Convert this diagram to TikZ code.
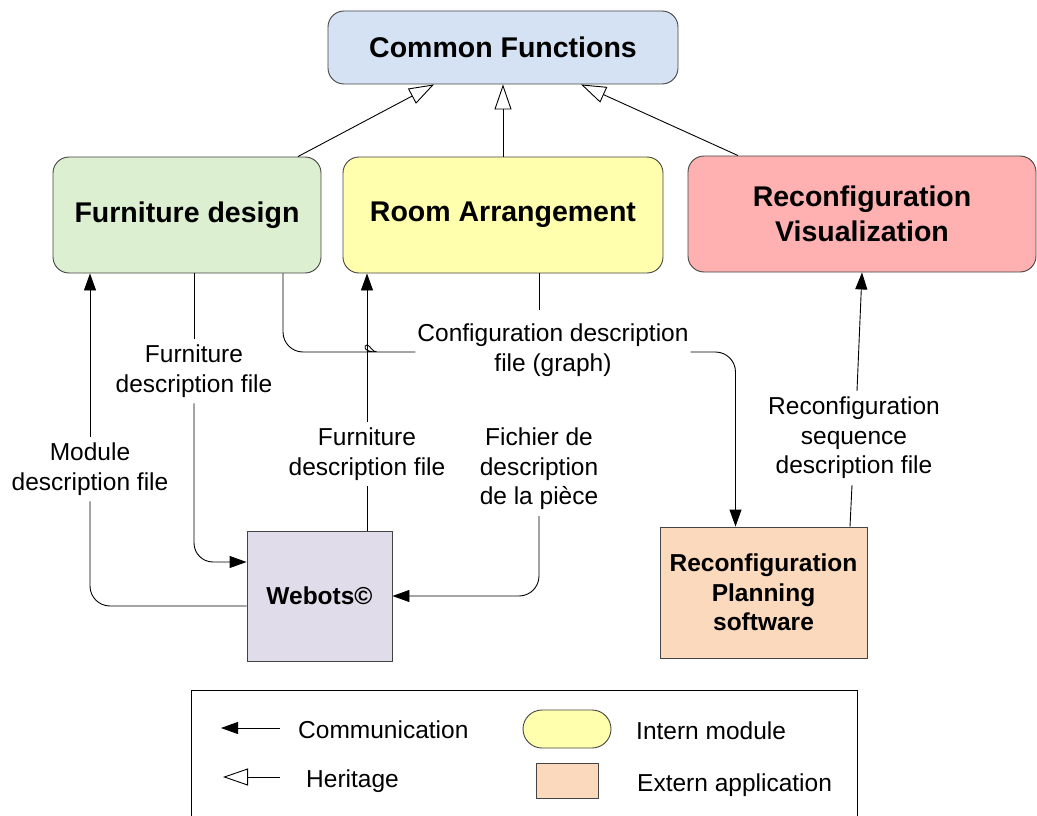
\documentclass[tikz,border=0pt]{standalone}
\usepackage{fontspec}
\setmainfont{Liberation Sans}
\usetikzlibrary{arrows.meta,calc}
\definecolor{cblue}{HTML}{D5E2F3}
\definecolor{cgreen}{HTML}{DCEFD0}
\definecolor{cyellow}{HTML}{FFFFAD}
\definecolor{cpink}{HTML}{FFB1B1}
\definecolor{clav}{HTML}{E1DCE9}
\definecolor{corange}{HTML}{FAD9BC}
\definecolor{cborder}{HTML}{444444}
\begin{document}
\begin{tikzpicture}[x=1pt,y=-1pt,
  modbox/.style={draw=cborder,line width=0.9pt,rounded corners=16pt,align=center,
    font=\fontsize{28.5}{35}\selectfont\bfseries},
  extbox/.style={draw=cborder,line width=0.9pt,align=center,
    font=\fontsize{24.5}{29.5}\selectfont\bfseries},
  lbl/.style={align=center,font=\fontsize{24.5}{29.5}\selectfont,inner xsep=2pt,inner ysep=6pt},
  leg/.style={anchor=west,font=\fontsize{24.5}{29.5}\selectfont,inner sep=0pt},
  conn/.style={line width=0.9pt},
  comm/.style={conn,-{Triangle[length=17pt,width=12pt]}},
  her/.style={conn,-{Triangle[open,length=25pt,width=17pt,fill=white]}}]
\useasboundingbox (0,0) rectangle (1037,816);

% main boxes
\node[modbox,fill=cblue,minimum width=350pt,minimum height=73pt] (common) at (503,47.5) {Common Functions};
\node[modbox,fill=cgreen,minimum width=268pt,minimum height=116pt] (furn) at (187,215) {Furniture design};
\node[modbox,fill=cyellow,minimum width=320pt,minimum height=116pt] (room) at (503,215) {Room Arrangement};
\node[modbox,fill=cpink,minimum width=348pt,minimum height=116pt] (vis) at (862,214) {Reconfiguration\\Visualization};
\node[extbox,fill=clav,minimum width=145pt,minimum height=130pt] (webots) at (319.5,596) {Webots©};
\node[extbox,fill=corange,minimum width=207pt,minimum height=131pt] (plan) at (763.5,592.5) {Reconfiguration\\Planning\\software};

% labels
\node[lbl] (lfd) at (194,371) {Furniture\\description file};
\node[lbl] (mod) at (90,469) {Module\\description file};
\node[lbl] (rfd) at (367,454) {Furniture\\description file};
\node[lbl] (fich) at (539,469) {Fichier de\\description\\de la pièce};
\node[lbl,inner ysep=14pt] (cfg) at (553,350) {Configuration description\\file (graph)};
\node[lbl] (rsd) at (854,438) {Reconfiguration\\sequence\\description file};

% heritage
\draw[her] ([xshift=111pt]furn.north) -- ([xshift=-69pt]common.south);
\draw[her] (room.north) -- (common.south);
\draw[her] ([xshift=-124pt]vis.north) -- ([xshift=78pt]common.south);

% communication
\draw[conn] (furn.south -| lfd) -- (lfd.north);
\draw[comm,rounded corners=19pt] (lfd.south) |- ([yshift=34pt]webots.west);

\draw[conn,rounded corners=20pt] ([yshift=-10pt]webots.west) -| (mod.south);
\draw[comm] (mod.north) -- (mod.north |- furn.south);

\draw[conn] (webots.north -| rfd) -- (rfd.south);
\draw[comm] (rfd.north) -- (rfd.north |- room.south);

\draw[comm,rounded corners=20pt] (fich.south) |- (webots.east);

\coordinate (hopL) at (357,352);
\coordinate (hopT) at (367,345);
\coordinate (hopR) at (377,352);
\draw[conn] ([xshift=96pt]furn.south) [rounded corners=20pt] |- (hopL) [sharp corners]
  .. controls (362,352) and (364,345) .. (hopT)
  .. controls (370,345) and (372,352) .. (hopR) -- (cfg.west |- hopR);
\draw[comm,rounded corners=20pt] (cfg.east |- hopR) -| ([xshift=-28pt]plan.north);
\coordinate (rs) at ([xshift=36pt]room.south);
\draw[conn] (rs) -- (rs |- cfg.north);

\draw[conn] ([xshift=86.5pt]plan.north) -- ([xshift=-2pt]rsd.south);
\draw[comm] ([xshift=3pt]rsd.north) -- (vis.south);

% legend
\draw[line width=0.9pt,draw=black] (191,830) -- (191,690) -- (857,690) -- (857,830);
\coordinate (c1) at (280,728);
\coordinate (c2) at (221,728);
\draw[comm] (c1) -- (c2);
\node[leg] (tcomm) at (298,730) {Communication};
\coordinate (h1) at (280,777);
\coordinate (h2) at (223,777);
\draw[her] (h1) -- (h2);
\node[leg] (ther) at (306,781) {Heritage};
\node[draw=cborder,line width=0.9pt,fill=cyellow,rounded corners=19pt,minimum width=88pt,minimum height=38pt] (ly) at (567,729) {};
\node[leg] (tint) at (636,731) {Intern module};
\node[draw=cborder,line width=0.9pt,fill=corange,minimum width=62pt,minimum height=35pt] (lo) at (567,780.5) {};
\node[leg] (text) at (637,785) {Extern application};
\end{tikzpicture}
\end{document}
